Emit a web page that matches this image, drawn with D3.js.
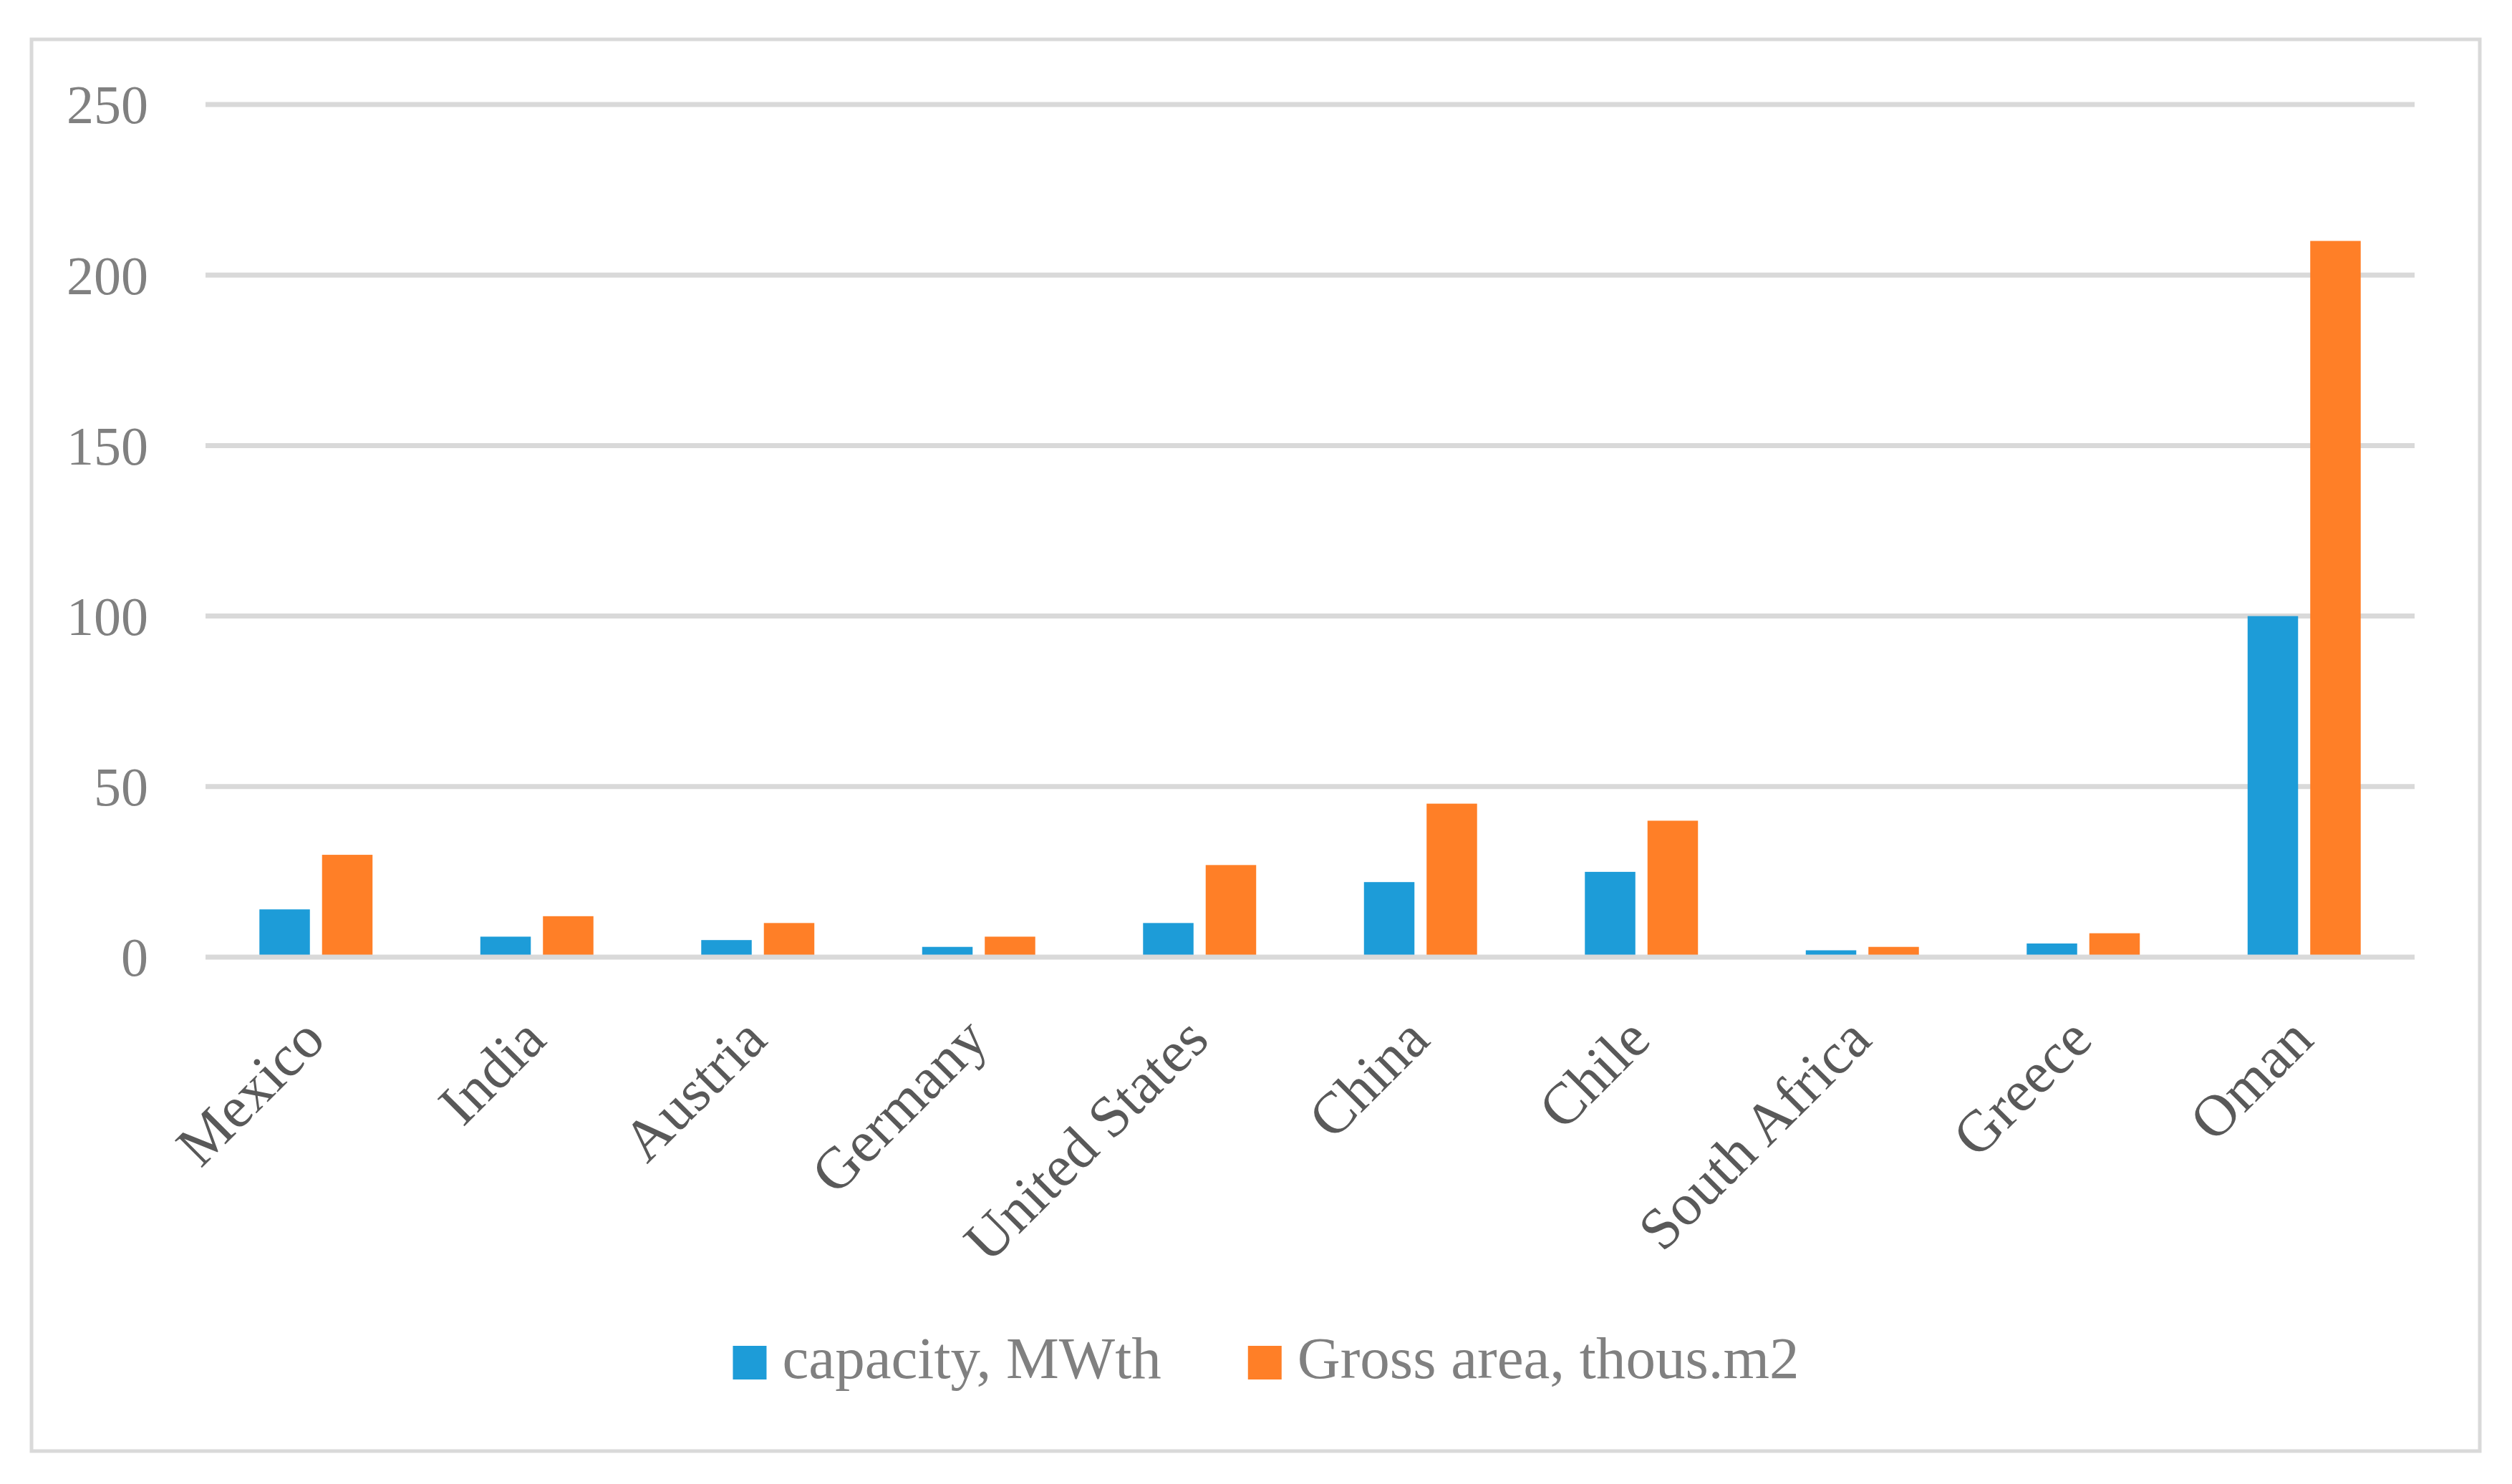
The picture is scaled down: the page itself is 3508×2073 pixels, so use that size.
<!DOCTYPE html>
<html>
<head>
<meta charset="utf-8">
<script src="https://cdn.jsdelivr.net/npm/d3@7/dist/d3.min.js"></script>
<style>
  html, body { margin: 0; padding: 0; background: #ffffff; }
  svg { display: block; }
</style>
</head>
<body>
<script>
// ---- data ----
const categories = ["Mexico", "India", "Austria", "Germany", "United States", "China", "Chile", "South Africa", "Greece", "Oman"];
const capacity = [14, 6, 5, 3, 10, 22, 25, 2, 4, 100];
const grossArea = [30, 12, 10, 6, 27, 45, 40, 3, 7, 210];
const yTicks = [0, 50, 100, 150, 200, 250];
const seriesNames = ["capacity, MWth", "Gross area, thous.m2"];
const seriesColors = ["#1D9CD8", "#FF7F27"];

// ---- layout ----
const W = 3508, H = 2073;
const plot = { left: 287, right: 3372, top: 146, bottom: 1337 };
const FONT = "'Palatino Linotype', 'Book Antiqua', Palatino, 'Liberation Serif', serif";

const svg = d3.select("body").append("svg")
  .attr("width", W).attr("height", H)
  .attr("viewBox", `0 0 ${W} ${H}`);

svg.append("rect").attr("x", 0).attr("y", 0).attr("width", W).attr("height", H).attr("fill", "#ffffff");

// outer chart border
svg.append("rect")
  .attr("x", 44).attr("y", 55)
  .attr("width", 3463 - 44).attr("height", 2027 - 55)
  .attr("fill", "none").attr("stroke", "#D9D9D9").attr("stroke-width", 5);

const y = d3.scaleLinear().domain([0, 250]).range([plot.bottom, plot.top]);
const x0 = d3.scaleBand().domain(categories).range([plot.left, plot.right])
  .paddingInner(0.488).paddingOuter(0.244);
const x1 = d3.scaleBand().domain([0, 1]).range([0, x0.bandwidth()]).paddingInner(0.194);

// gridlines (except baseline)
svg.append("g").selectAll("line")
  .data(yTicks.filter(d => d !== 0))
  .join("line")
  .attr("x1", plot.left).attr("x2", plot.right)
  .attr("y1", d => y(d)).attr("y2", d => y(d))
  .attr("stroke", "#D9D9D9").attr("stroke-width", 7);

// y-axis labels
const yAxis = svg.append("g")
  .attr("transform", `translate(${plot.left},0)`)
  .call(d3.axisLeft(y).tickValues(yTicks).tickSize(0).tickPadding(80));
yAxis.select(".domain").remove();
yAxis.selectAll("text")
  .attr("font-family", FONT).attr("font-size", 76)
  .attr("fill", "#808080").attr("dy", "0.34em");

// bars
const series = [capacity, grossArea];
const groups = svg.append("g").selectAll("g")
  .data(categories)
  .join("g")
  .attr("transform", d => `translate(${x0(d)},0)`);
groups.selectAll("rect")
  .data((d, i) => series.map((s, k) => ({ k, v: s[i] })))
  .join("rect")
  .attr("x", d => x1(d.k))
  .attr("width", x1.bandwidth())
  .attr("y", d => y(d.v))
  .attr("height", d => y(0) - y(d.v))
  .attr("fill", d => seriesColors[d.k]);

// baseline
svg.append("line")
  .attr("x1", plot.left).attr("x2", plot.right)
  .attr("y1", y(0)).attr("y2", y(0))
  .attr("stroke", "#D9D9D9").attr("stroke-width", 7);

// x-axis labels
const xAxis = svg.append("g")
  .attr("transform", `translate(0,${y(0)})`)
  .call(d3.axisBottom(x0).tickSize(0));
xAxis.select(".domain").remove();
xAxis.selectAll("text")
  .attr("x", 0).attr("y", 0).attr("dy", 0)
  .attr("text-anchor", "end")
  .attr("transform", "translate(16,119) rotate(-45)")
  .attr("font-family", FONT).attr("font-size", 82)
  .attr("fill", "#595959");

// legend
const legend = svg.append("g");
const legendItems = legend.selectAll("g").data(seriesNames).join("g");
legendItems.append("rect")
  .attr("width", 47).attr("height", 47)
  .attr("y", 1880)
  .attr("fill", (d, i) => seriesColors[i]);
legendItems.append("text")
  .attr("x", 69).attr("y", 1925)
  .attr("font-family", FONT).attr("font-size", 83)
  .attr("fill", "#808080")
  .text(d => d);
// position items, centred
let widths = [];
legendItems.each(function () {
  widths.push(d3.select(this).select("text").node().getComputedTextLength() + 69);
});
const itemGap = 121;
const total = widths.reduce((a, b) => a + b, 0) + itemGap * (widths.length - 1);
let cx = 1768 - total / 2;
legendItems.each(function (d, i) {
  d3.select(this).attr("transform", `translate(${cx},0)`);
  cx += widths[i] + itemGap;
});
</script>
</body>
</html>
